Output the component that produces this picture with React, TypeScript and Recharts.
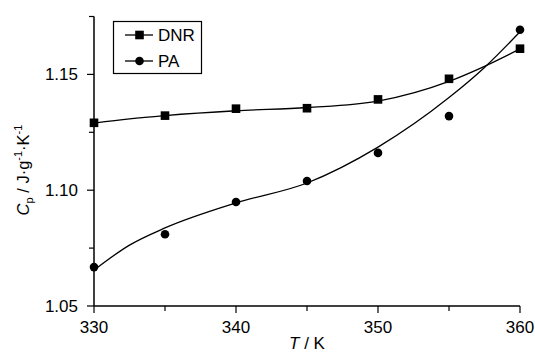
import React from 'react';
import { ComposedChart, Line, Scatter, XAxis, YAxis } from 'recharts';

// measured points
const temps = [330, 335, 340, 345, 350, 355, 360];
const dnrCp = [1.1291, 1.1322, 1.1352, 1.1354, 1.1392, 1.1481, 1.1611];
const paCp = [1.0668, 1.081, 1.0949, 1.104, 1.1161, 1.132, 1.1693];

// fitted curves
const fitT = [330, 332.5, 335, 340, 345, 350, 355, 357.5, 360];
const dnrFit = [1.1290, 1.1308, 1.1322, 1.1343, 1.1357, 1.1385, 1.1470, 1.1535, 1.1610];
const paFit = [1.0655, 1.0763, 1.0837, 1.0945, 1.1031, 1.1186, 1.1400, 1.1530, 1.1684];

const xTicks = [330, 335, 340, 345, 350, 355, 360];
const xLabels = [330, 340, 350, 360];
const yTicks = [1.05, 1.075, 1.1, 1.125, 1.15, 1.175];
const yLabels = [1.05, 1.1, 1.15];

const FONT = '"Liberation Sans", Arial, sans-serif';

const dnrPoints = temps.map((t, i) => ({ x: t, y: dnrCp[i] }));
const paPoints = temps.map((t, i) => ({ x: t, y: paCp[i] }));
const dnrLine = fitT.map((t, i) => ({ x: t, y: dnrFit[i] }));
const paLine = fitT.map((t, i) => ({ x: t, y: paFit[i] }));

// tickSize/tickMargin are 0, so x/y here sit right on the axis line
const XTick = (props: any) => {
  const { x, y, payload } = props;
  const major = xLabels.includes(payload.value);
  return (
    <g>
      <line x1={x} x2={x} y1={y} y2={y + (major ? 7 : 5)} stroke="#000" strokeWidth={1.2} />
      {major && (
        <text x={x} y={y + 27} textAnchor="middle" fontSize={17} fontFamily={FONT} fill="#000">
          {payload.value}
        </text>
      )}
    </g>
  );
};

const YTick = (props: any) => {
  const { x, y, payload } = props;
  const v = Math.round(payload.value * 1000) / 1000;
  const major = yLabels.some((l) => Math.abs(l - v) < 1e-6);
  return (
    <g>
      <line x1={x} x2={x - (major ? 7 : 5)} y1={y} y2={y} stroke="#000" strokeWidth={1.2} />
      {major && (
        <text x={x - 16} y={y + 6} textAnchor="end" fontSize={17} fontFamily={FONT} fill="#000">
          {v.toFixed(2)}
        </text>
      )}
    </g>
  );
};

const Square = (props: any) => {
  const { cx, cy } = props;
  return <rect x={cx - 4.3} y={cy - 4.3} width={8.6} height={8.6} fill="#000" />;
};

const Dot = (props: any) => {
  const { cx, cy } = props;
  return <circle cx={cx} cy={cy} r={4.3} fill="#000" />;
};

export default function App() {
  return (
    <div style={{ position: 'absolute', left: 0, top: 0, width: 535, height: 356, background: '#fff' }}>
      <ComposedChart width={535} height={356} margin={{ top: 16.5, right: 15, bottom: 20, left: 0 }}>
        <XAxis
          type="number"
          dataKey="x"
          domain={[330, 360]}
          ticks={xTicks}
          tick={<XTick />}
          tickLine={false}
          tickSize={0}
          tickMargin={0}
          axisLine={{ stroke: '#000', strokeWidth: 1.5 }}
          height={30}
          allowDuplicatedCategory={false}
        />
        <YAxis
          type="number"
          dataKey="y"
          domain={[1.05, 1.175]}
          ticks={yTicks}
          tick={<YTick />}
          tickLine={false}
          tickSize={0}
          tickMargin={0}
          axisLine={{ stroke: '#000', strokeWidth: 1.5 }}
          width={94}
          allowDataOverflow
        />
        <Line data={dnrLine} dataKey="y" type="monotone" stroke="#000" strokeWidth={1.3} dot={false} isAnimationActive={false} />
        <Line data={paLine} dataKey="y" type="monotone" stroke="#000" strokeWidth={1.3} dot={false} isAnimationActive={false} />
        <Scatter data={dnrPoints} dataKey="y" shape={<Square />} isAnimationActive={false} />
        <Scatter data={paPoints} dataKey="y" shape={<Dot />} isAnimationActive={false} />
      </ComposedChart>

      <svg width={535} height={356} style={{ position: 'absolute', left: 0, top: 0, pointerEvents: 'none' }}>
        <text transform="rotate(-90, 29, 170)" x={29} y={170} textAnchor="middle" fontSize={16.5} fontFamily={FONT} fill="#000">
          <tspan fontStyle="italic">C</tspan>
          <tspan fontSize={11} dy={4}>p</tspan>
          <tspan dy={-4}> / J·g</tspan>
          <tspan fontSize={11} dy={-7}>-1</tspan>
          <tspan dy={7}>·K</tspan>
          <tspan fontSize={11} dy={-7}>-1</tspan>
        </text>
        <text x={307} y={349} textAnchor="middle" fontSize={17} fontFamily={FONT} fill="#000">
          <tspan fontStyle="italic">T</tspan>
          <tspan> / K</tspan>
        </text>
        <rect x={113.5} y={21.5} width={88} height={52} fill="#fff" stroke="#000" strokeWidth={1.2} />
        <line x1={125} x2={153} y1={35} y2={35} stroke="#000" strokeWidth={1.3} />
        <rect x={135.2} y={30.7} width={8.6} height={8.6} fill="#000" />
        <text x={158} y={41} fontSize={17} fontFamily={FONT} fill="#000">DNR</text>
        <line x1={125} x2={153} y1={61} y2={61} stroke="#000" strokeWidth={1.3} />
        <circle cx={139.5} cy={61} r={4.3} fill="#000" />
        <text x={158} y={67} fontSize={17} fontFamily={FONT} fill="#000">PA</text>
      </svg>
    </div>
  );
}
